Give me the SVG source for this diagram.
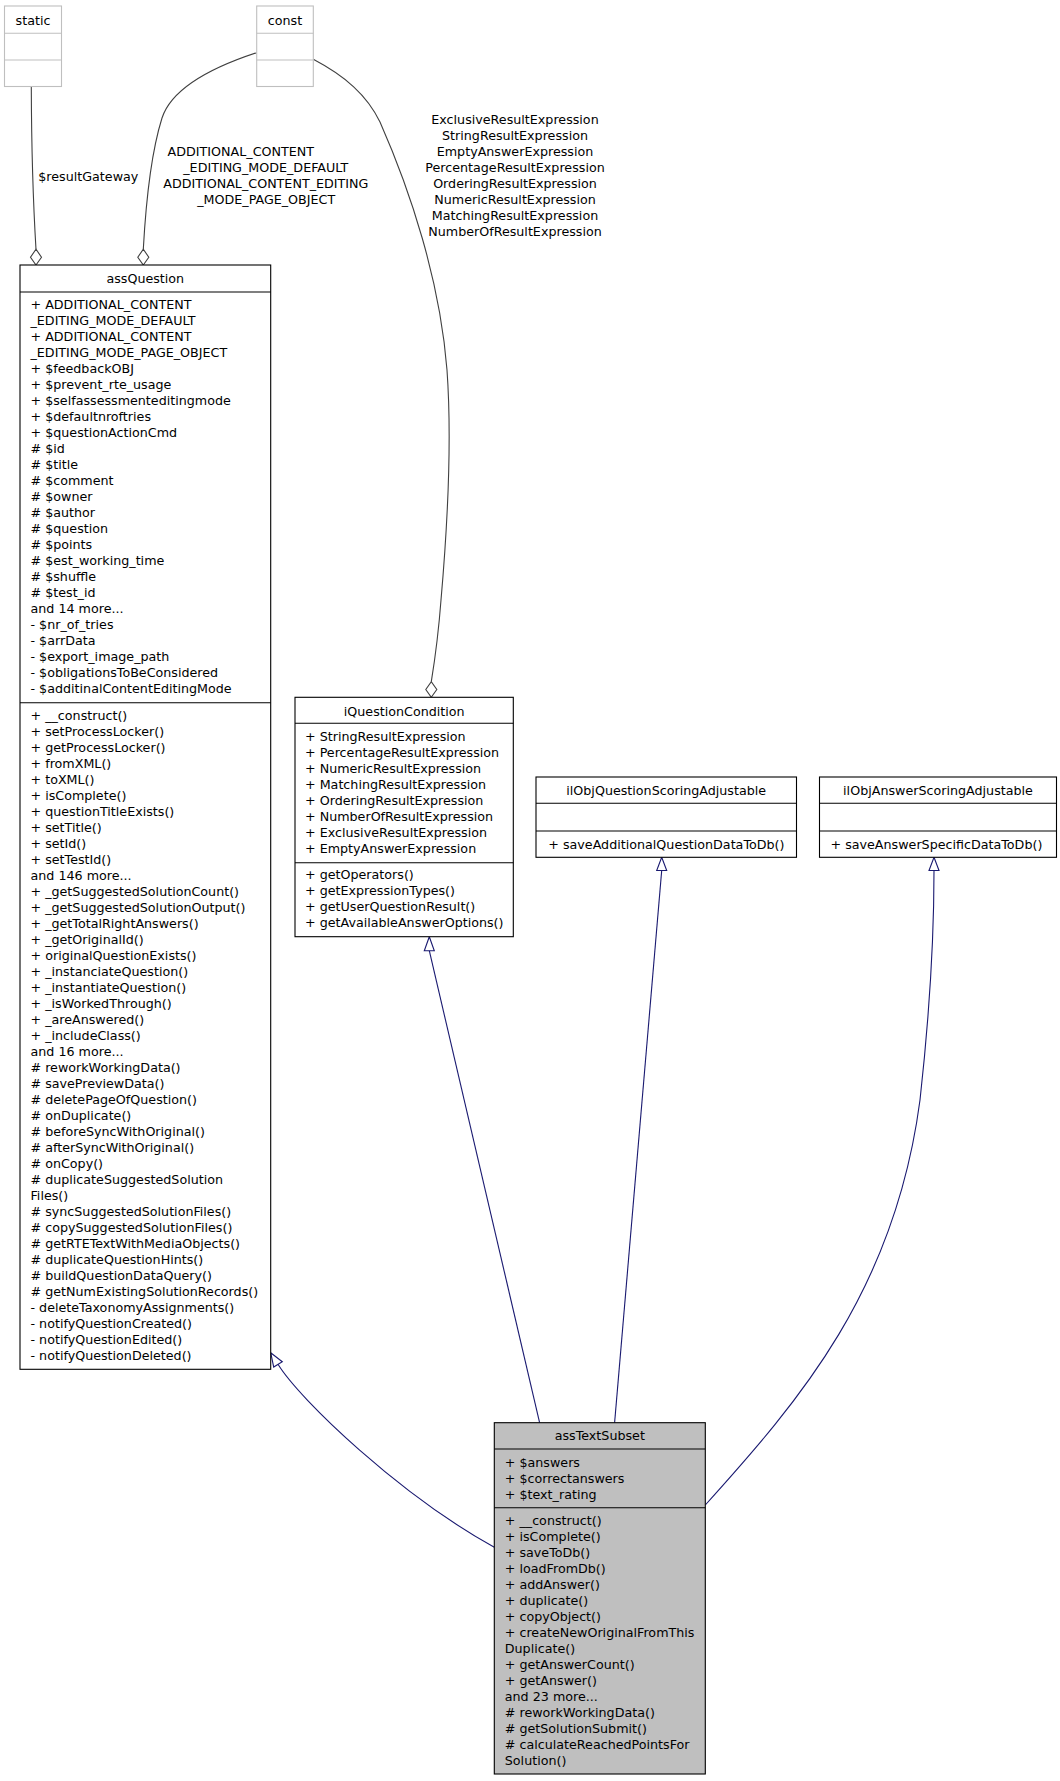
<svg xmlns="http://www.w3.org/2000/svg" width="1060" height="1781" viewBox="0 0 1060 1781">
<style>
text{font-family:"DejaVu Sans","Noto Sans",sans-serif;font-size:12.7px;fill:#000}
.c{text-anchor:middle}
.box{fill:#fff;stroke:#000;stroke-width:1.1}
.gbox{fill:#fff;stroke:#bfbfbf;stroke-width:1.1}
.sel{fill:#bfbfbf;stroke:#000;stroke-width:1.1}
.ln{stroke:#000;stroke-width:1.1}
.gln{stroke:#bfbfbf;stroke-width:1.1}
.agg{fill:none;stroke:#404040;stroke-width:1.1}
.inh{fill:none;stroke:#191970;stroke-width:1.1}
.dia{fill:#fff;stroke:#404040;stroke-width:1.1}
.tri{fill:#fff;stroke:#191970;stroke-width:1.1}
</style>
<rect width="1060" height="1781" fill="#fff"/>

<g id="connectors">
  <path class="agg" d="M31.3,87 C31.5,150 33,200 36,249.3"/>
  <polygon class="dia" points="36,265 41.5,257.2 36,249.3 30.5,257.2"/>
  <text class="c" x="88.3" y="181.2">$resultGateway</text>

  <path class="agg" d="M256.7,52.7 C210,68 172,88 162,118 C152,150 146,200 143.3,249.3"/>
  <polygon class="dia" points="143.3,265 148.8,257.2 143.3,249.3 137.8,257.2"/>
  <text class="c" x="240.8" y="156.2">ADDITIONAL_CONTENT</text>
  <text class="c" x="265.8" y="172.2">_EDITING_MODE_DEFAULT</text>
  <text class="c" x="265.8" y="188">ADDITIONAL_CONTENT_EDITING</text>
  <text class="c" x="266.2" y="204">_MODE_PAGE_OBJECT</text>

  <path class="agg" d="M313.3,59.3 C345,76 367,95 380,122 C410,190 440,280 447,370 C452,440 448,520 441,600 C438,640 434,665 431.3,681.7"/>
  <polygon class="dia" points="431.3,697.3 436.8,689.5 431.3,681.7 425.8,689.5"/>
  <text class="c" x="515" y="123.8">ExclusiveResultExpression<tspan x="515" dy="16">StringResultExpression</tspan><tspan x="515" dy="16">EmptyAnswerExpression</tspan><tspan x="515" dy="16">PercentageResultExpression</tspan><tspan x="515" dy="16">OrderingResultExpression</tspan><tspan x="515" dy="16">NumericResultExpression</tspan><tspan x="515" dy="16">MatchingResultExpression</tspan><tspan x="515" dy="16">NumberOfResultExpression</tspan></text>

  <path class="inh" d="M494.3,1547.3 C400,1495 300,1400 278,1364.3"/>
  <polygon class="tri" points="270.7,1352.7 282.3,1361.7 273.7,1367"/>

  <path class="inh" d="M539.6,1422.7 C500,1250 460,1080 429.3,950.7"/>
  <polygon class="tri" points="429.3,936.7 434.3,950.7 424.3,950.7"/>

  <path class="inh" d="M614.6,1422.7 L661.7,870.5"/>
  <polygon class="tri" points="661.7,857.3 666.7,870.5 656.7,870.5"/>

  <path class="inh" d="M705.3,1505 C800,1400 895,1290 920,1100 C930,1010 934,930 934,870.5"/>
  <polygon class="tri" points="934,857.3 939,870.5 929,870.5"/>
</g>

<g id="static">
  <rect class="gbox" x="4.5" y="6" width="57" height="80.5"/>
  <line class="gln" x1="4.5" y1="33.3" x2="61.5" y2="33.3"/>
  <line class="gln" x1="4.5" y1="60" x2="61.5" y2="60"/>
  <text class="c" x="33" y="24.5">static</text>
</g>

<g id="const">
  <rect class="gbox" x="256.7" y="6" width="56.6" height="80.5"/>
  <line class="gln" x1="256.7" y1="33.3" x2="313.3" y2="33.3"/>
  <line class="gln" x1="256.7" y1="60" x2="313.3" y2="60"/>
  <text class="c" x="285" y="24.5">const</text>
</g>

<g id="assQuestion">
  <rect class="box" x="20" y="265" width="250.7" height="1104.3"/>
  <line class="ln" x1="20" y1="292" x2="270.7" y2="292"/>
  <line class="ln" x1="20" y1="702.7" x2="270.7" y2="702.7"/>
  <text class="c" x="145.3" y="282.8">assQuestion</text>
  <text x="30.5" y="308.8">+ ADDITIONAL_CONTENT<tspan x="30.5" dy="16">_EDITING_MODE_DEFAULT</tspan><tspan x="30.5" dy="16">+ ADDITIONAL_CONTENT</tspan><tspan x="30.5" dy="16">_EDITING_MODE_PAGE_OBJECT</tspan><tspan x="30.5" dy="16">+ $feedbackOBJ</tspan><tspan x="30.5" dy="16">+ $prevent_rte_usage</tspan><tspan x="30.5" dy="16">+ $selfassessmenteditingmode</tspan><tspan x="30.5" dy="16">+ $defaultnroftries</tspan><tspan x="30.5" dy="16">+ $questionActionCmd</tspan><tspan x="30.5" dy="16"># $id</tspan><tspan x="30.5" dy="16"># $title</tspan><tspan x="30.5" dy="16"># $comment</tspan><tspan x="30.5" dy="16"># $owner</tspan><tspan x="30.5" dy="16"># $author</tspan><tspan x="30.5" dy="16"># $question</tspan><tspan x="30.5" dy="16"># $points</tspan><tspan x="30.5" dy="16"># $est_working_time</tspan><tspan x="30.5" dy="16"># $shuffle</tspan><tspan x="30.5" dy="16"># $test_id</tspan><tspan x="30.5" dy="16">and 14 more...</tspan><tspan x="30.5" dy="16">- $nr_of_tries</tspan><tspan x="30.5" dy="16">- $arrData</tspan><tspan x="30.5" dy="16">- $export_image_path</tspan><tspan x="30.5" dy="16">- $obligationsToBeConsidered</tspan><tspan x="30.5" dy="16">- $additinalContentEditingMode</tspan></text>
  <text x="30.5" y="719.5">+ __construct()<tspan x="30.5" dy="16">+ setProcessLocker()</tspan><tspan x="30.5" dy="16">+ getProcessLocker()</tspan><tspan x="30.5" dy="16">+ fromXML()</tspan><tspan x="30.5" dy="16">+ toXML()</tspan><tspan x="30.5" dy="16">+ isComplete()</tspan><tspan x="30.5" dy="16">+ questionTitleExists()</tspan><tspan x="30.5" dy="16">+ setTitle()</tspan><tspan x="30.5" dy="16">+ setId()</tspan><tspan x="30.5" dy="16">+ setTestId()</tspan><tspan x="30.5" dy="16">and 146 more...</tspan><tspan x="30.5" dy="16">+ _getSuggestedSolutionCount()</tspan><tspan x="30.5" dy="16">+ _getSuggestedSolutionOutput()</tspan><tspan x="30.5" dy="16">+ _getTotalRightAnswers()</tspan><tspan x="30.5" dy="16">+ _getOriginalId()</tspan><tspan x="30.5" dy="16">+ originalQuestionExists()</tspan><tspan x="30.5" dy="16">+ _instanciateQuestion()</tspan><tspan x="30.5" dy="16">+ _instantiateQuestion()</tspan><tspan x="30.5" dy="16">+ _isWorkedThrough()</tspan><tspan x="30.5" dy="16">+ _areAnswered()</tspan><tspan x="30.5" dy="16">+ _includeClass()</tspan><tspan x="30.5" dy="16">and 16 more...</tspan><tspan x="30.5" dy="16"># reworkWorkingData()</tspan><tspan x="30.5" dy="16"># savePreviewData()</tspan><tspan x="30.5" dy="16"># deletePageOfQuestion()</tspan><tspan x="30.5" dy="16"># onDuplicate()</tspan><tspan x="30.5" dy="16"># beforeSyncWithOriginal()</tspan><tspan x="30.5" dy="16"># afterSyncWithOriginal()</tspan><tspan x="30.5" dy="16"># onCopy()</tspan><tspan x="30.5" dy="16"># duplicateSuggestedSolution</tspan><tspan x="30.5" dy="16">Files()</tspan><tspan x="30.5" dy="16"># syncSuggestedSolutionFiles()</tspan><tspan x="30.5" dy="16"># copySuggestedSolutionFiles()</tspan><tspan x="30.5" dy="16"># getRTETextWithMediaObjects()</tspan><tspan x="30.5" dy="16"># duplicateQuestionHints()</tspan><tspan x="30.5" dy="16"># buildQuestionDataQuery()</tspan><tspan x="30.5" dy="16"># getNumExistingSolutionRecords()</tspan><tspan x="30.5" dy="16">- deleteTaxonomyAssignments()</tspan><tspan x="30.5" dy="16">- notifyQuestionCreated()</tspan><tspan x="30.5" dy="16">- notifyQuestionEdited()</tspan><tspan x="30.5" dy="16">- notifyQuestionDeleted()</tspan></text>
</g>

<g id="iQuestionCondition">
  <rect class="box" x="295" y="697.3" width="218.3" height="239.4"/>
  <line class="ln" x1="295" y1="723.3" x2="513.3" y2="723.3"/>
  <line class="ln" x1="295" y1="862.7" x2="513.3" y2="862.7"/>
  <text class="c" x="404.2" y="715.5">iQuestionCondition</text>
  <text x="305" y="741.2">+ StringResultExpression<tspan x="305" dy="16">+ PercentageResultExpression</tspan><tspan x="305" dy="16">+ NumericResultExpression</tspan><tspan x="305" dy="16">+ MatchingResultExpression</tspan><tspan x="305" dy="16">+ OrderingResultExpression</tspan><tspan x="305" dy="16">+ NumberOfResultExpression</tspan><tspan x="305" dy="16">+ ExclusiveResultExpression</tspan><tspan x="305" dy="16">+ EmptyAnswerExpression</tspan></text>
  <text x="305" y="878.8">+ getOperators()<tspan x="305" dy="16">+ getExpressionTypes()</tspan><tspan x="305" dy="16">+ getUserQuestionResult()</tspan><tspan x="305" dy="16">+ getAvailableAnswerOptions()</tspan></text>
</g>

<g id="ilObjQuestionScoringAdjustable">
  <rect class="box" x="536" y="777" width="260.5" height="80.3"/>
  <line class="ln" x1="536" y1="803.3" x2="796.5" y2="803.3"/>
  <line class="ln" x1="536" y1="831" x2="796.5" y2="831"/>
  <text class="c" x="666.2" y="795.2">ilObjQuestionScoringAdjustable</text>
  <text x="548.3" y="848.5">+ saveAdditionalQuestionDataToDb()</text>
</g>

<g id="ilObjAnswerScoringAdjustable">
  <rect class="box" x="819.5" y="777" width="237" height="80.3"/>
  <line class="ln" x1="819.5" y1="803.3" x2="1056.5" y2="803.3"/>
  <line class="ln" x1="819.5" y1="831" x2="1056.5" y2="831"/>
  <text class="c" x="938" y="795.2">ilObjAnswerScoringAdjustable</text>
  <text x="830.5" y="848.5">+ saveAnswerSpecificDataToDb()</text>
</g>

<g id="assTextSubset">
  <rect class="sel" x="494.3" y="1422.7" width="211" height="351.3"/>
  <line class="ln" x1="494.3" y1="1449" x2="705.3" y2="1449"/>
  <line class="ln" x1="494.3" y1="1507.7" x2="705.3" y2="1507.7"/>
  <text class="c" x="599.8" y="1439.5">assTextSubset</text>
  <text x="504.8" y="1466.8">+ $answers<tspan x="504.8" dy="16">+ $correctanswers</tspan><tspan x="504.8" dy="16">+ $text_rating</tspan></text>
  <text x="504.8" y="1524.5">+ __construct()<tspan x="504.8" dy="16">+ isComplete()</tspan><tspan x="504.8" dy="16">+ saveToDb()</tspan><tspan x="504.8" dy="16">+ loadFromDb()</tspan><tspan x="504.8" dy="16">+ addAnswer()</tspan><tspan x="504.8" dy="16">+ duplicate()</tspan><tspan x="504.8" dy="16">+ copyObject()</tspan><tspan x="504.8" dy="16">+ createNewOriginalFromThis</tspan><tspan x="504.8" dy="16">Duplicate()</tspan><tspan x="504.8" dy="16">+ getAnswerCount()</tspan><tspan x="504.8" dy="16">+ getAnswer()</tspan><tspan x="504.8" dy="16">and 23 more...</tspan><tspan x="504.8" dy="16"># reworkWorkingData()</tspan><tspan x="504.8" dy="16"># getSolutionSubmit()</tspan><tspan x="504.8" dy="16"># calculateReachedPointsFor</tspan><tspan x="504.8" dy="16">Solution()</tspan></text>
</g>
</svg>
